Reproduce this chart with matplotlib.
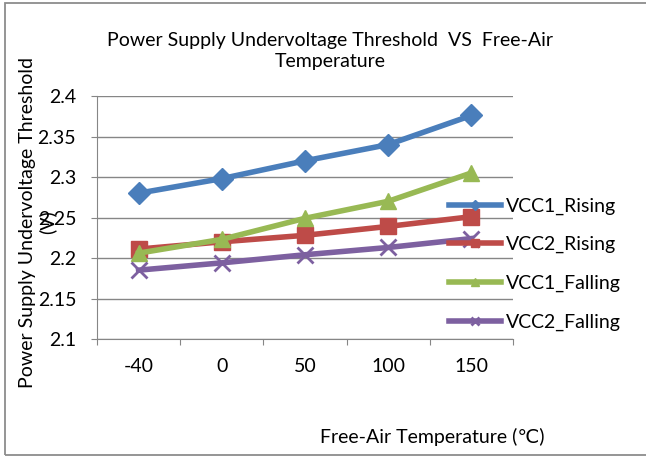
import matplotlib.pyplot as plt
from matplotlib.patches import Rectangle

plt.rcParams['font.family'] = ['Lato', 'DejaVu Sans']

temps = ['-40', '0', '50', '100', '150']
vcc1_rising = [2.280, 2.298, 2.320, 2.340, 2.376]
vcc2_rising = [2.211, 2.220, 2.228, 2.239, 2.251]
vcc1_falling = [2.206, 2.223, 2.249, 2.270, 2.305]
vcc2_falling = [2.185, 2.194, 2.204, 2.213, 2.224]

W, H = 646, 457
fig = plt.figure(figsize=(W / 100, H / 100), dpi=100)
ax = fig.add_axes([97 / W, 1 - 339 / H, (513 - 97) / W, (339 - 96) / H])

# chart border (right edge runs off the image)
fig.patches.append(Rectangle((5 / W, 1 - 455 / H), 1.0, (455 - 3) / H,
                             transform=fig.transFigure, fill=False,
                             edgecolor='#8c8c8c', linewidth=1.3))

x = range(len(temps))
series = [
    ('VCC1_Rising', vcc1_rising, '#4a7ebb', 'D', 11),
    ('VCC2_Rising', vcc2_rising, '#be4b48', 's', 11),
    ('VCC1_Falling', vcc1_falling, '#98b954', '^', 12),
    ('VCC2_Falling', vcc2_falling, '#7d60a0', 'x', 11),
]
for name, vals, col, mk, ms in series:
    ax.plot(x, vals, color=col, linewidth=4, marker=mk, markersize=ms,
            markeredgewidth=2 if mk == 'x' else 1, markeredgecolor=col,
            label=name, zorder=3)

fs = 14
ax.set_xlim(-0.5, len(temps) - 0.5)
ax.set_ylim(2.1, 2.4)
ax.set_yticks([2.1, 2.15, 2.2, 2.25, 2.3, 2.35, 2.4])
ax.set_yticklabels(['2.1', '2.15', '2.2', '2.25', '2.3', '2.35', '2.4'])
ax.set_xticks([i - 0.5 for i in range(len(temps) + 1)])
ax.set_xticklabels([])
ax.set_xticks(list(x), minor=True)
ax.set_xticklabels(temps, minor=True)
ax.tick_params(axis='x', which='minor', length=0, pad=14, labelsize=fs)
ax.tick_params(axis='x', which='major', length=4, color='#868686')
ax.tick_params(axis='y', length=4, color='#868686', labelsize=fs, pad=11)
ax.grid(axis='y', color='#868686', linewidth=1)
ax.set_axisbelow(True)
for s in ['top', 'right']:
    ax.spines[s].set_visible(False)
for s in ['left', 'bottom']:
    ax.spines[s].set_color('#868686')

fig.text(330 / W, 1 - 51 / H,
         'Power Supply Undervoltage Threshold  VS  Free-Air\nTemperature',
         ha='center', va='center', fontsize=14, linespacing=1.3)
# y label: two lines, the unit line sits over the tick labels as in the source
fig.text(28 / W, 1 - 222 / H, 'Power Supply Undervoltage Threshold',
         rotation=90, ha='center', va='center', fontsize=14)
fig.text(47 / W, 1 - 222 / H, '(V)',
         rotation=90, ha='center', va='center', fontsize=14)
fig.text(432 / W, 1 - 437 / H, 'Free-Air Temperature (℃)',
         ha='center', va='center', fontsize=14)

fig.legend(loc='center left', bbox_to_anchor=(431 / W, 1 - 264 / H),
           frameon=False, fontsize=fs, handlelength=2.7, labelspacing=1.1,
           handletextpad=0.25, markerscale=0.5)

fig.savefig('out.png', dpi=100)
